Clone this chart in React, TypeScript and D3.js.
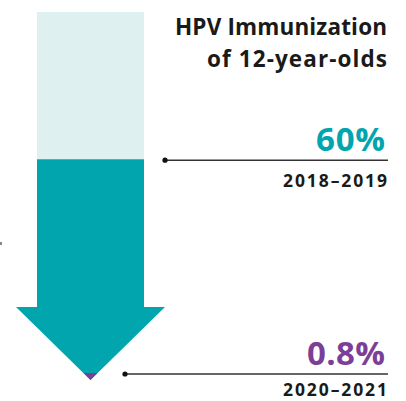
import React from "react";
import * as d3 from "d3";

const periods = ["2018–2019", "2020–2021"];
const values = [60, 0.8];
const valueLabels = ["60%", "0.8%"];
const titleLines = ["HPV Immunization", "of 12-year-olds"];
const colors = ["#00a5ae", "#7c3f98"];

const W = 406;
const H = 401;

export default function App() {
  const y = d3.scaleLinear().domain([0, 100]).range([380, 12]);
  const x = d3.scaleLinear().domain([0, 1]).range([37, 144]);
  const cx = (x(0) + x(1)) / 2;
  const tipY = y(0);
  const headHalf = 74.5;
  const headTop = tipY - headHalf + 1.5;

  const arrowPath = d3.path();
  arrowPath.moveTo(x(0), y(values[0]));
  arrowPath.lineTo(x(1), y(values[0]));
  arrowPath.lineTo(x(1), headTop);
  arrowPath.lineTo(cx + headHalf, headTop);
  arrowPath.lineTo(cx, tipY);
  arrowPath.lineTo(cx - headHalf, headTop);
  arrowPath.lineTo(x(0), headTop);
  arrowPath.closePath();

  const purpleTop = Math.min(y(values[1]), tipY - 7);
  const ph = tipY - purpleTop;
  const tipPath = d3.path();
  tipPath.moveTo(cx - ph, purpleTop);
  tipPath.lineTo(cx + ph, purpleTop);
  tipPath.lineTo(cx, tipY);
  tipPath.closePath();

  const calloutY = [y(values[0]) + 1, purpleTop + 1];
  const calloutX0 = [165, 125];
  const rightX = 388;

  const font = "'Open Sans', 'Noto Sans', sans-serif";
  const titleLen = [212, 180];
  const valueLen = [69, 78];

  return (
    <svg
      width={W}
      height={H}
      style={{ position: "absolute", left: 0, top: 0 }}
      viewBox={`0 0 ${W} ${H}`}
    >
      <rect x={0} y={0} width={W} height={H} fill="#ffffff" />
      <rect
        x={x(0)}
        y={y(100)}
        width={x(1) - x(0)}
        height={y(values[0]) - y(100)}
        fill="#dff0f0"
      />
      <path d={arrowPath.toString()} fill={colors[0]} />
      <path d={tipPath.toString()} fill={colors[1]} />
      <rect x={0} y={242} width={2} height={3} fill="#888" />

      {titleLines.map((t, i) => (
        <text
          key={t}
          x={387}
          y={35 + i * 31.5}
          textAnchor="end"
          fontFamily={font}
          fontWeight={700}
          fontSize={22.5}
          fill="#1a1a1a"
          textLength={titleLen[i]}
          lengthAdjust="spacing"
        >
          {t}
        </text>
      ))}

      {values.map((v, i) => (
        <g key={periods[i]}>
          <line
            x1={calloutX0[i]}
            x2={rightX}
            y1={calloutY[i]}
            y2={calloutY[i]}
            stroke="#333"
            strokeWidth={1.5}
          />
          <circle cx={calloutX0[i]} cy={calloutY[i]} r={2.6} fill="#111" />
          <text
            x={385}
            y={calloutY[i] - 9}
            textAnchor="end"
            fontFamily={font}
            fontWeight={700}
            fontSize={33}
            fill={colors[i]}
            textLength={valueLen[i]}
            lengthAdjust="spacing"
          >
            {valueLabels[i]}
          </text>
          <text
            x={387}
            y={Math.min(calloutY[i] + 27, 396)}
            textAnchor="end"
            fontFamily={font}
            fontWeight={700}
            fontSize={17.5}
            fill="#1a1a1a"
            textLength={104}
            lengthAdjust="spacing"
          >
            {periods[i]}
          </text>
        </g>
      ))}
    </svg>
  );
}
